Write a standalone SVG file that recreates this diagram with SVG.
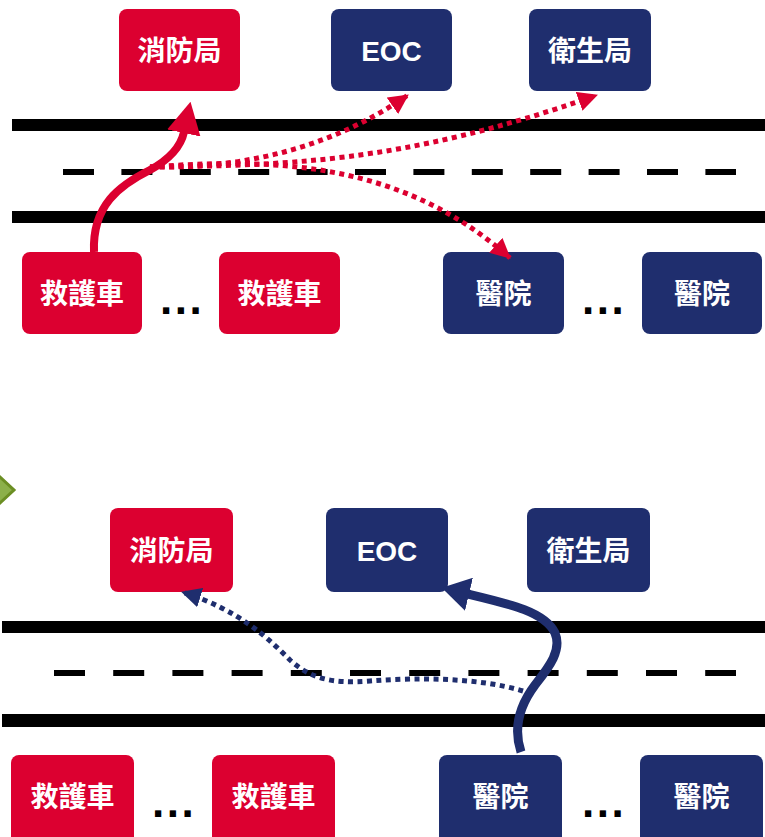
<svg xmlns="http://www.w3.org/2000/svg" width="765" height="837" viewBox="0 0 765 837">
<style>
  .red { fill: #DC0030; }
  .navy { fill: #1F2E6E; }
  .lbl { fill: #FFFFFF; font-family: "Liberation Sans", "Noto Sans CJK TC", sans-serif; font-weight: bold; font-size: 28px; text-anchor: middle; dominant-baseline: central; }
  .dots { fill: #000000; font-family: "Liberation Sans", sans-serif; font-weight: bold; font-size: 44px; letter-spacing: 2.5px; }
  .road { fill: #000000; }
  .lane { stroke: #000000; stroke-width: 6; fill: none; }
  .dotRed { stroke: #DC0030; stroke-width: 5; stroke-dasharray: 5 4.5; fill: none; marker-end: url(#ahRedDot); }
  .dotNavy { stroke: #1F2E6E; stroke-width: 5; stroke-dasharray: 5 4.5; fill: none; marker-end: url(#ahNavyDot); }
  .solidRed { stroke: #DC0030; stroke-width: 8; fill: none; marker-end: url(#ahRedBig); }
  .solidNavy { stroke: #1F2E6E; stroke-width: 9; fill: none; marker-end: url(#ahNavyBig); }
</style>
<defs>
  <marker id="ahRedDot" markerUnits="userSpaceOnUse" viewBox="0 0 20 20" markerWidth="20" markerHeight="20" refX="19" refY="10" orient="auto">
    <path d="M0,0 L20,10 L0,20 z" fill="#DC0030"/>
  </marker>
  <marker id="ahNavyDot" markerUnits="userSpaceOnUse" viewBox="0 0 20 20" markerWidth="20" markerHeight="20" refX="19" refY="10" orient="auto">
    <path d="M0,0 L20,10 L0,20 z" fill="#1F2E6E"/>
  </marker>
  <marker id="ahRedBig" markerUnits="userSpaceOnUse" viewBox="0 0 32 34" markerWidth="32" markerHeight="34" refX="1" refY="17" orient="auto">
    <path d="M0,0 L32,17 L0,34 z" fill="#DC0030"/>
  </marker>
  <marker id="ahNavyBig" markerUnits="userSpaceOnUse" viewBox="0 0 28 34" markerWidth="28" markerHeight="34" refX="1" refY="17" orient="auto">
    <path d="M0,0 L28,17 L0,34 z" fill="#1F2E6E"/>
  </marker>
</defs>
<rect x="0" y="0" width="765" height="837" fill="#FFFFFF"/>

<!-- roads -->
<g id="roads">
  <rect class="road" x="12" y="119" width="753" height="12"/>
  <line class="lane" x1="63" y1="172" x2="736" y2="172" stroke-dasharray="31 27.4"/>
  <rect class="road" x="12" y="211" width="753" height="12"/>
  <rect class="road" x="2" y="621" width="763" height="12"/>
  <line class="lane" x1="54" y1="673" x2="736" y2="673" stroke-dasharray="31 28.2"/>
  <rect class="road" x="2" y="714" width="763" height="13"/>
</g>

<!-- green bullet -->
<polygon points="-14,490 0,477 14,490 0,503" fill="#8CB04A" stroke="#6B8E23" stroke-width="3"/>

<!-- top section nodes -->
<g id="fire1"><rect class="red" x="119" y="9" width="121" height="82" rx="8"/><text class="lbl" x="179.5" y="51">消防局</text></g>
<g id="eoc1"><rect class="navy" x="331" y="9" width="121" height="82" rx="8"/><text class="lbl" x="391.5" y="51">EOC</text></g>
<g id="health1"><rect class="navy" x="529" y="9" width="122" height="82" rx="8"/><text class="lbl" x="590" y="51">衛生局</text></g>
<g id="amb1a"><rect class="red" x="22" y="252" width="120" height="82" rx="8"/><text class="lbl" x="82" y="294">救護車</text></g>
<g id="amb1b"><rect class="red" x="219" y="252" width="121" height="82" rx="8"/><text class="lbl" x="279.5" y="294">救護車</text></g>
<g id="hosp1a"><rect class="navy" x="443" y="252" width="121" height="82" rx="8"/><text class="lbl" x="503.5" y="294">醫院</text></g>
<g id="hosp1b"><rect class="navy" x="642" y="252" width="120" height="82" rx="8"/><text class="lbl" x="702" y="294">醫院</text></g>
<text class="dots" x="160" y="314">...</text>
<text class="dots" x="582" y="314">...</text>

<!-- bottom section nodes -->
<g id="fire2"><rect class="red" x="110" y="508" width="123" height="84" rx="8"/><text class="lbl" x="171.5" y="551">消防局</text></g>
<g id="eoc2"><rect class="navy" x="326" y="508" width="122" height="84" rx="8"/><text class="lbl" x="387" y="551">EOC</text></g>
<g id="health2"><rect class="navy" x="527" y="508" width="123" height="84" rx="8"/><text class="lbl" x="588.5" y="551">衛生局</text></g>
<g id="amb2a"><rect class="red" x="11" y="755" width="123" height="90" rx="8"/><text class="lbl" x="72.5" y="797">救護車</text></g>
<g id="amb2b"><rect class="red" x="212" y="755" width="123" height="90" rx="8"/><text class="lbl" x="273.5" y="797">救護車</text></g>
<g id="hosp2a"><rect class="navy" x="439" y="755" width="123" height="90" rx="8"/><text class="lbl" x="500.5" y="797">醫院</text></g>
<g id="hosp2b"><rect class="navy" x="640" y="755" width="123" height="90" rx="8"/><text class="lbl" x="701.5" y="797">醫院</text></g>
<text class="dots" x="152" y="817">...</text>
<text class="dots" x="582" y="817">...</text>

<!-- connectors -->
<g id="connectors">
  <path class="solidRed" d="M 94 252 C 92 205, 120 185, 150 170 C 170 159, 181 146, 184 132"/>
  <path class="dotRed" d="M 150 167 Q 300 170 408 95"/>
  <path class="dotRed" d="M 150 167 C 280 165, 400 165, 597 95"/>
  <path class="dotRed" d="M 150 167 C 270 158, 400 160, 510 258"/>
  <path class="solidNavy" d="M 521 752 C 513 728, 520 705, 535 685 C 550 666, 562 650, 555 633 C 545 612, 510 604, 468 594"/>
  <path class="dotNavy" d="M 523 691 C 480 678, 420 677, 370 681 C 330 684, 310 678, 290 660 C 270 640, 240 610, 182 592"/>
</g>
</svg>
